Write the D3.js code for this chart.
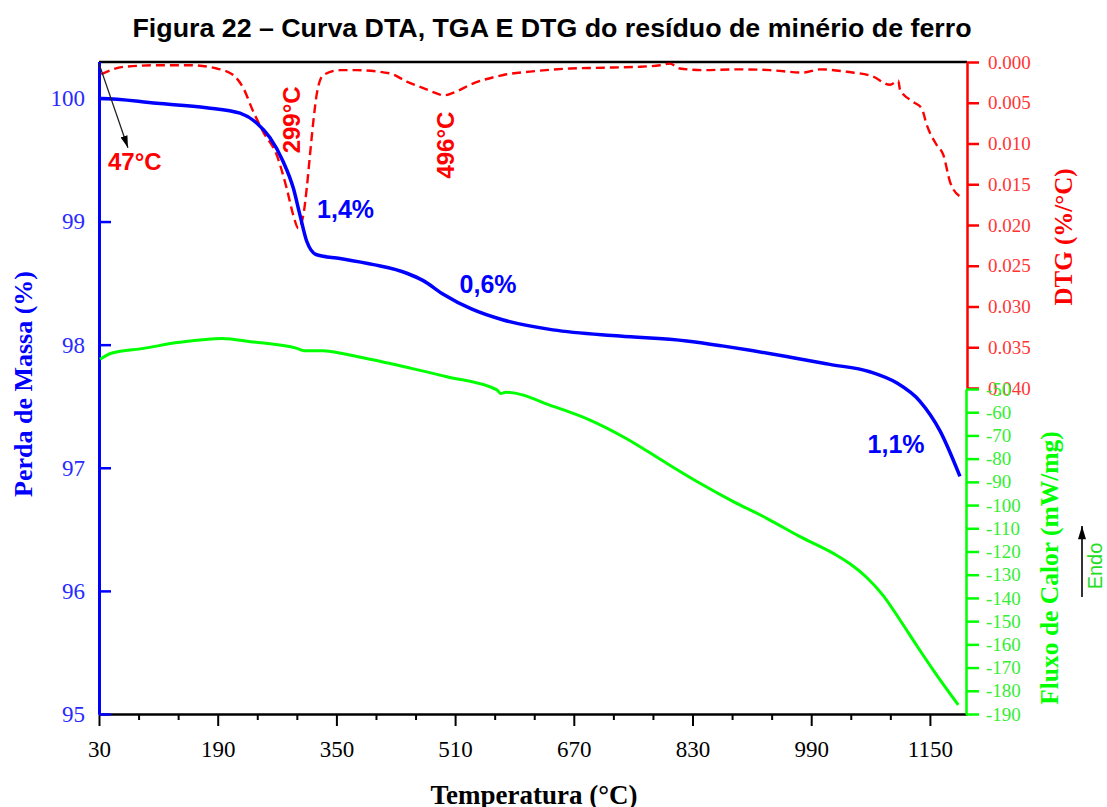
<!DOCTYPE html>
<html>
<head>
<meta charset="utf-8">
<script src="https://cdn.jsdelivr.net/npm/d3@7"></script>
<style>
  html, body { margin: 0; padding: 0; background: #fff; }
  svg { display: block; }
</style>
</head>
<body>
<svg id="chart" width="1107" height="807"></svg>
<script>
// Temperature (°C) and mass (%) for the TGA curve
const tgaTemp = [31, 34, 108, 175, 220, 242.5, 260.5, 278, 292, 301, 310, 323.4, 355, 400, 445, 467, 494, 532, 575, 642, 732, 822, 870, 912, 960, 1015, 1069, 1105, 1136.6, 1163.6, 1190.5];
const tgaMass = [100.0, 100.0, 99.96, 99.925, 99.88, 99.80, 99.68, 99.49, 99.27, 99.05, 98.84, 98.73, 98.70, 98.65, 98.58, 98.52, 98.41, 98.29, 98.20, 98.12, 98.07, 98.03, 97.99, 97.95, 97.90, 97.84, 97.78, 97.69, 97.54, 97.30, 96.93];

// Temperature (°C) and DTG (%/°C) for the derivative curve
const dtgTemp = [33, 62.8, 107.8, 152.7, 188.6, 211, 224.5, 238, 251.5, 269.5, 283, 291.9, 298.6, 305.4, 310, 314.4, 318.9, 323.4, 332.3, 354.8, 377.3, 422.2, 444.7, 467.1, 489.6, 493.7, 512.1, 530, 575, 620, 664.9, 709.7, 754.7, 786.2, 799.6, 813.1, 844.5, 889.5, 934.4, 979.3, 1001.8, 1037.8, 1073.6, 1096.2, 1107.4, 1109.7, 1127.6, 1139, 1145.7, 1159.2, 1168.1, 1177.1, 1190.6];
const dtgValue = [0.0015, 0.0006, 0.0004, 0.0004, 0.0008, 0.0016, 0.0032, 0.0061, 0.0086, 0.0114, 0.0155, 0.0188, 0.0204, 0.0188, 0.0155, 0.0114, 0.0073, 0.0040, 0.0016, 0.0010, 0.0010, 0.0014, 0.0024, 0.0032, 0.0040, 0.0041, 0.0036, 0.0028, 0.0016, 0.0011, 0.0008, 0.0007, 0.0006, 0.0004, 0.0002, 0.0008, 0.0010, 0.0009, 0.0010, 0.0013, 0.0009, 0.0012, 0.0018, 0.0028, 0.0023, 0.0034, 0.0049, 0.0057, 0.0077, 0.0102, 0.0114, 0.0147, 0.0165];

// Temperature (°C) and heat flow (mW/mg) for the DTA curve
const dtaTemp = [31.3, 46.6, 90, 138.2, 195.8, 234.5, 296.9, 306.3, 330.6, 379, 451, 499, 566.4, 571.4, 578.6, 643.3, 691.8, 740, 795.2, 840.1, 885, 930, 974.9, 1019.8, 1042.3, 1064.8, 1087.1, 1109.7, 1132.2, 1154.5, 1188.2];
const dtaValue = [-37.2, -34.6, -32.5, -29.9, -28.2, -29.6, -32.5, -33.5, -33.5, -36.1, -41.1, -44.7, -50.4, -51.9, -51.4, -57.6, -63.4, -71.2, -82.0, -90.6, -98.5, -105.7, -113.6, -120.8, -125.3, -131.2, -139.0, -149.5, -160.5, -171.1, -186.1];

// Tick values for the four axes
const xMajorTicks = [30, 190, 350, 510, 670, 830, 990, 1150];
const massTicks = [95, 96, 97, 98, 99, 100];
const dtgTicks = [0, 0.005, 0.010, 0.015, 0.020, 0.025, 0.030, 0.035, 0.040];
const dtaTicks = [-50, -60, -70, -80, -90, -100, -110, -120, -130, -140, -150, -160, -170, -180, -190];

// Annotation texts
const titleText = "Figura 22 – Curva DTA, TGA E DTG do resíduo de minério de ferro";
const stepLabels = [
  { text: "1,4%", t: 324, m: 99.03 },
  { text: "0,6%", t: 516, m: 98.42 },
  { text: "1,1%", t: 1066, m: 97.12 }
];
const peakLabels = [
  { text: "299°C", t: 299, v: 0.0071 },
  { text: "496°C", t: 507, v: 0.0102 }
];

const BLUE = "#0000ff", RED = "#ff0000", GREEN = "#00ff00";
const SERIF = "'Liberation Serif', 'Times New Roman', serif";
const SANS = "'Liberation Sans', Arial, sans-serif";

const svg = d3.select("#chart");
const plotLeft = 99, plotRight = 967, plotTop = 62, plotBottom = 714, dtgBottom = 388;

const x = d3.scaleLinear().domain([30, 1200]).range([plotLeft, plotRight]);
const yMass = d3.scaleLinear().domain([95, 100.3]).range([plotBottom, 61.5]);
const yDtg = d3.scaleLinear().domain([0, 0.04]).range([plotTop, dtgBottom]);
const yDta = d3.scaleLinear().domain([-50, -190]).range([dtgBottom + 1, plotBottom]);

// Title
svg.append("text")
  .attr("x", 552).attr("y", 37)
  .attr("text-anchor", "middle")
  .attr("textLength", 839).attr("lengthAdjust", "spacingAndGlyphs")
  .style("font-family", SANS).style("font-weight", "bold").style("font-size", "25px")
  .text(titleText);

// Frame: top black line
svg.append("line").attr("x1", plotLeft).attr("x2", plotRight).attr("y1", plotTop).attr("y2", plotTop)
  .attr("stroke", "#000").attr("stroke-width", 2.5);

// Bottom axis, major and minor ticks
const minorTicks = d3.range(30, 1200, 160 / 3).filter(v => !xMajorTicks.some(m => Math.abs(m - v) < 1));
const gxMinor = svg.append("g").attr("transform", `translate(0,${plotBottom})`)
  .call(d3.axisBottom(x).tickValues(minorTicks).tickSize(6).tickSizeOuter(0).tickFormat(""));
gxMinor.select(".domain").remove();
gxMinor.selectAll("line").attr("stroke", "#000").attr("stroke-width", 2);

const gx = svg.append("g").attr("transform", `translate(0,${plotBottom})`)
  .call(d3.axisBottom(x).tickValues(xMajorTicks).tickSize(12).tickSizeOuter(0).tickPadding(15).tickFormat(d => String(d)));
gx.select(".domain").attr("stroke", "#000").attr("stroke-width", 2.5);
gx.selectAll("line").attr("stroke", "#000").attr("stroke-width", 2);
gx.selectAll("text").style("font-family", SERIF).style("font-size", "23px").attr("fill", "#000");

// Left mass axis (blue, inward ticks)
const gy = svg.append("g").attr("transform", `translate(${plotLeft},0)`)
  .call(d3.axisLeft(yMass).tickValues(massTicks).tickSize(-12).tickSizeOuter(0).tickPadding(14).tickFormat(d => String(d)));
gy.select(".domain").attr("stroke", BLUE).attr("stroke-width", 3);
gy.selectAll("line").attr("stroke", BLUE).attr("stroke-width", 2.5);
gy.selectAll("text").style("font-family", SERIF).style("font-size", "23px").attr("fill", "#2a2aff");

// Right DTG axis (red)
const gDtg = svg.append("g").attr("transform", `translate(${plotRight},0)`)
  .call(d3.axisRight(yDtg).tickValues(dtgTicks).tickSize(12).tickSizeOuter(0).tickPadding(9).tickFormat(d3.format(".3f")));
gDtg.select(".domain").attr("stroke", RED).attr("stroke-width", 2.5);
gDtg.selectAll("line").attr("stroke", RED).attr("stroke-width", 2.5);
gDtg.selectAll("text").style("font-family", SERIF).style("font-size", "19px").attr("fill", "#ff3535");

// Right DTA axis (green)
const gDta = svg.append("g").attr("transform", `translate(${plotRight - 1},0)`)
  .call(d3.axisRight(yDta).tickValues(dtaTicks).tickSize(13).tickSizeOuter(0).tickPadding(7).tickFormat(d => String(d)));
gDta.select(".domain").attr("stroke", GREEN).attr("stroke-width", 2.5);
gDta.selectAll("line").attr("stroke", GREEN).attr("stroke-width", 2.5);
gDta.selectAll("text").style("font-family", SERIF).style("font-size", "19px").attr("fill", "#33ee33");

// Axis titles
svg.append("text")
  .attr("x", 534).attr("y", 804).attr("text-anchor", "middle")
  .style("font-family", SERIF).style("font-weight", "bold").style("font-size", "27px")
  .text("Temperatura (°C)");

svg.append("text")
  .attr("transform", "translate(32,384) rotate(-90)").attr("text-anchor", "middle")
  .style("font-family", SERIF).style("font-weight", "bold").style("font-size", "26px")
  .attr("fill", BLUE).text("Perda de Massa (%)");

svg.append("text")
  .attr("transform", "translate(1072,237) rotate(-90)").attr("text-anchor", "middle")
  .style("font-family", SERIF).style("font-weight", "bold").style("font-size", "25px")
  .attr("fill", RED).text("DTG (%/°C)");

svg.append("text")
  .attr("transform", "translate(1058,568) rotate(-90)").attr("text-anchor", "middle")
  .style("font-family", SERIF).style("font-weight", "bold").style("font-size", "25.5px")
  .attr("fill", GREEN).text("Fluxo de Calor (mW/mg)");

// Arrowhead markers
const defs = svg.append("defs");
defs.append("marker").attr("id", "head").attr("viewBox", "0 0 10 6")
  .attr("refX", 10).attr("refY", 3).attr("markerWidth", 12).attr("markerHeight", 8)
  .attr("markerUnits", "userSpaceOnUse").attr("orient", "auto")
  .append("path").attr("d", "M0,0 L10,3 L0,6 Z").attr("fill", "#000");
defs.append("marker").attr("id", "headEndo").attr("viewBox", "0 0 10 6")
  .attr("refX", 10).attr("refY", 3).attr("markerWidth", 16).attr("markerHeight", 8)
  .attr("markerUnits", "userSpaceOnUse").attr("orient", "auto")
  .append("path").attr("d", "M0,0 L10,3 L0,6 Z").attr("fill", "#000");

// Endo direction marker
svg.append("line").attr("x1", 1082).attr("y1", 597).attr("x2", 1082).attr("y2", 526)
  .attr("stroke", "#000").attr("stroke-width", 1.6).attr("marker-end", "url(#headEndo)");
svg.append("text")
  .attr("transform", "translate(1102,566) rotate(-90)").attr("text-anchor", "middle")
  .style("font-family", SANS).style("font-size", "20px").attr("fill", "#22dd22")
  .text("Endo");

// Curves
const tgaData = tgaTemp.map((t, i) => [t, tgaMass[i]]);
const dtgData = dtgTemp.map((t, i) => [t, dtgValue[i]]);
const dtaData = dtaTemp.map((t, i) => [t, dtaValue[i]]);

svg.append("path").datum(dtaData)
  .attr("fill", "none").attr("stroke", GREEN).attr("stroke-width", 3)
  .attr("d", d3.line().x(d => x(d[0])).y(d => yDta(d[1])).curve(d3.curveMonotoneX));

svg.append("path").datum(dtgData)
  .attr("fill", "none").attr("stroke", RED).attr("stroke-width", 2.4)
  .attr("stroke-dasharray", "9,5")
  .attr("d", d3.line().x(d => x(d[0])).y(d => yDtg(d[1])).curve(d3.curveMonotoneX));

svg.append("path").datum(tgaData)
  .attr("fill", "none").attr("stroke", BLUE).attr("stroke-width", 3.5)
  .attr("d", d3.line().x(d => x(d[0])).y(d => yMass(d[1])).curve(d3.curveMonotoneX));

// 47 °C marker arrow and label
svg.append("line")
  .attr("x1", x(30)).attr("y1", yDtg(0.0002))
  .attr("x2", x(69)).attr("y2", yMass(99.6))
  .attr("stroke", "#222").attr("stroke-width", 1.3).attr("marker-end", "url(#head)");
svg.append("text").attr("x", 108).attr("y", 170)
  .style("font-family", SANS).style("font-weight", "bold").style("font-size", "24px")
  .attr("fill", RED).text("47°C");

// DTG peak labels (rotated)
peakLabels.forEach(p => {
  svg.append("text")
    .attr("transform", `translate(${x(p.t) + 1},${yDtg(p.v)}) rotate(-90)`)
    .attr("text-anchor", "middle")
    .style("font-family", SANS).style("font-weight", "bold").style("font-size", "24px")
    .attr("fill", RED).text(p.text);
});

// Mass-loss step labels
stepLabels.forEach(s => {
  svg.append("text").attr("x", x(s.t)).attr("y", yMass(s.m))
    .style("font-family", SANS).style("font-weight", "bold").style("font-size", "25px")
    .attr("fill", BLUE).text(s.text);
});
</script>
</body>
</html>
